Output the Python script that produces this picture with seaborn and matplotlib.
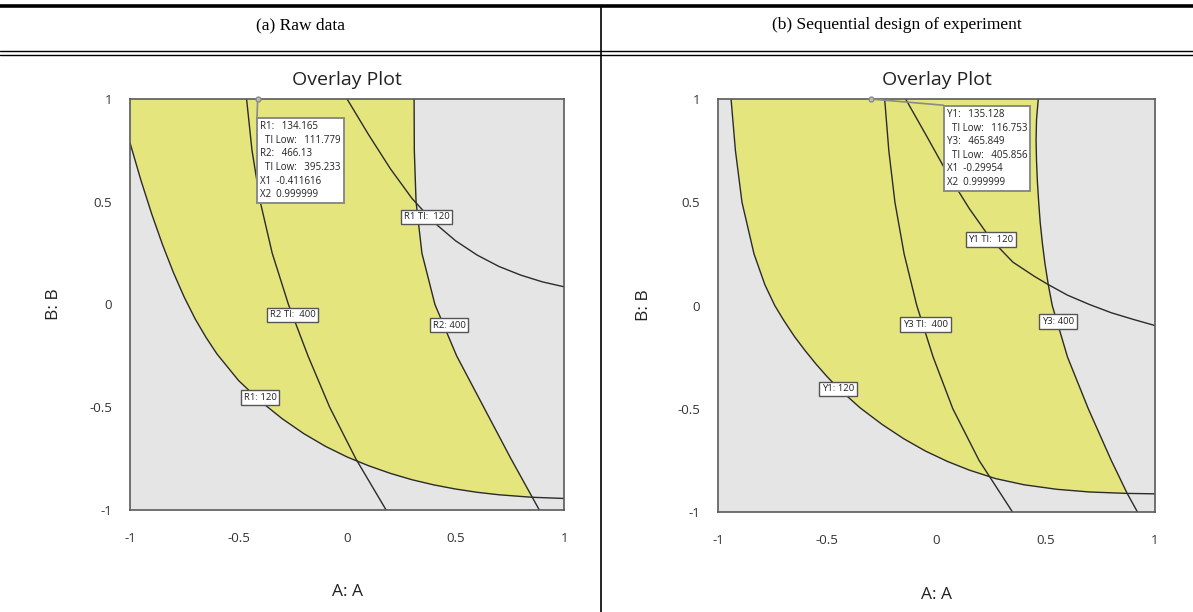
import numpy as np
import matplotlib.pyplot as plt
import seaborn as sns
from matplotlib.lines import Line2D

sns.set_style("white")
plt.rcParams["font.family"] = ["Open Sans", "DejaVu Sans"]

# ---- data (coded factors A, B in [-1, 1]) ----
headers = ["(a) Raw data", "(b) Sequential design of experiment"]
tick_vals = [-1, -0.5, 0, 0.5, 1]
tick_text = ["-1", "-0.5", "0", "0.5", "1"]

# (a) raw data
a_r1_120_x = [-1.0, -0.95, -0.90, -0.85, -0.80, -0.75, -0.70, -0.65, -0.60, -0.50, -0.40,
              -0.30, -0.20, -0.10, 0.0, 0.1, 0.2, 0.3, 0.4, 0.5, 0.6, 0.7, 0.85, 1.0]
a_r1_120_y = [0.786, 0.605, 0.44, 0.29, 0.155, 0.035, -0.07, -0.16, -0.24, -0.37, -0.47,
              -0.555, -0.628, -0.69, -0.742, -0.785, -0.822, -0.853, -0.878, -0.898,
              -0.914, -0.926, -0.938, -0.944]
a_r2_ti_x = [-0.463, -0.438, -0.40, -0.345, -0.27, -0.18, -0.08, 0.04, 0.18]
a_r2_ti_y = [1.0, 0.75, 0.5, 0.25, 0.0, -0.25, -0.5, -0.75, -1.0]
a_r1_ti_x = [0.0, 0.1, 0.2, 0.3, 0.4, 0.5, 0.6, 0.7, 0.8, 0.9, 1.0]
a_r1_ti_y = [1.0, 0.825, 0.66, 0.515, 0.40, 0.31, 0.24, 0.185, 0.143, 0.11, 0.086]
a_r2_400_x = [0.309, 0.31, 0.318, 0.345, 0.405, 0.505, 0.63, 0.755, 0.886]
a_r2_400_y = [1.0, 0.75, 0.5, 0.25, 0.0, -0.25, -0.5, -0.75, -1.0]
a_labels = ["R1 TI:  120", "R2 TI:  400", "R2: 400", "R1: 120"]
a_flag = ["R1:   134.165", "  TI Low:   111.779", "R2:   466.13",
          "  TI Low:   395.233", "X1  -0.411616", "X2  0.999999"]
a_point = (-0.411616, 0.999999)

# (b) sequential design of experiment
b_y1_120_x = [-0.94, -0.92, -0.89, -0.835, -0.785, -0.74, -0.70, -0.65, -0.60, -0.55,
              -0.50, -0.45, -0.35, -0.25, -0.15, -0.05, 0.05, 0.15, 0.27, 0.40, 0.55,
              0.70, 0.873, 1.0]
b_y1_120_y = [1.0, 0.75, 0.5, 0.25, 0.1, 0.0, -0.07, -0.15, -0.22, -0.285,
              -0.345, -0.40, -0.495, -0.575, -0.645, -0.705, -0.755, -0.797, -0.838,
              -0.868, -0.89, -0.903, -0.91, -0.912]
b_y3_ti_x = [-0.237, -0.218, -0.19, -0.148, -0.09, -0.015, 0.075, 0.195, 0.348]
b_y3_ti_y = [1.0, 0.75, 0.5, 0.25, 0.0, -0.25, -0.5, -0.75, -1.0]
b_y1_ti_x = [-0.141, -0.05, 0.05, 0.15, 0.25, 0.35, 0.45, 0.514, 0.6, 0.7, 0.8, 0.9, 1.0]
b_y1_ti_y = [1.0, 0.83, 0.64, 0.47, 0.32, 0.21, 0.14, 0.10, 0.05, 0.005, -0.035, -0.067, -0.097]
b_y3_400_x = [0.466, 0.458, 0.456, 0.458, 0.462, 0.468, 0.475, 0.485, 0.497, 0.512,
              0.53, 0.60, 0.695, 0.80, 0.873, 0.92]
b_y3_400_y = [1.0, 0.9, 0.8, 0.7, 0.6, 0.5, 0.4, 0.3, 0.2, 0.1,
              0.0, -0.25, -0.5, -0.75, -0.91, -1.0]
b_labels = ["Y1 TI:  120", "Y3 TI:  400", "Y3: 400", "Y1: 120"]
b_flag = ["Y1:   135.128", "  TI Low:   116.753", "Y3:   465.849",
          "  TI Low:   405.856", "X1  -0.29954", "X2  0.999999"]
b_point = (-0.29954, 0.999999)

YELLOW = "#e5e57e"
GREY_BG = "#e5e5e5"
LINE = "#2b2b2b"
FRAME = "#5a5a5a"


def draw_panel(ax, lower, ti_mid, ti_upper, upper, labels, label_pos, flag, point, flag_xy,
               ylab_x):
    ax.set_facecolor(GREY_BG)
    # feasible (yellow) window: right of lower limit curve, left of upper limit curve
    yy = np.linspace(-1, 1, 1500)
    lx, ly = np.array(lower[0]), np.array(lower[1])
    ux, uy = np.array(upper[0]), np.array(upper[1])
    x_left = np.interp(yy, ly[::-1], lx[::-1])
    x_right = np.interp(yy, uy[::-1], ux[::-1])
    x_left[yy > ly[0]] = -1.0
    ax.fill_betweenx(yy, x_left, x_right, where=x_left <= x_right,
                     color=YELLOW, lw=0, interpolate=True, zorder=1)

    for xs, ys in [lower, ti_mid, ti_upper, upper]:
        sns.lineplot(x=xs, y=ys, sort=False, estimator=None, color=LINE,
                     linewidth=1.0, ax=ax, zorder=3)

    for txt, (lx_, ly_) in zip(labels, label_pos):
        ax.text(lx_, ly_, txt, fontsize=6.8, ha="center", va="center", color="#222222",
                zorder=6, bbox=dict(boxstyle="square,pad=0.28", fc="white",
                                    ec="#555555", lw=1.0))

    # flag / tooltip at the selected point
    fx, fy = flag_xy
    ax.plot([point[0], fx], [point[1], fy], color="#8a8a8a", lw=1.2, zorder=5,
            clip_on=False)
    ax.plot([point[0]], [point[1]], marker="o", ms=3.5, mfc="#bdbdbd", mec="#8a8a8a",
            zorder=7, clip_on=False)
    ax.text(fx + 0.015, fy - 0.018, "\n".join(flag), fontsize=7.0, ha="left", va="top",
            linespacing=1.33, color="#222222", zorder=8,
            bbox=dict(boxstyle="square,pad=0.32", fc="white", ec="#8a8a8a", lw=1.4))

    ax.set_xlim(-1, 1)
    ax.set_ylim(-1, 1)
    ax.set_xticks(tick_vals)
    ax.set_xticklabels(tick_text)
    ax.set_yticks(tick_vals)
    ax.set_yticklabels(tick_text)
    ax.tick_params(direction="out", length=9, width=1.0, color=FRAME,
                   labelsize=9.5, labelcolor="#333333")
    ax.tick_params(axis="x", pad=7)
    ax.tick_params(axis="y", pad=4)
    for sp in ax.spines.values():
        sp.set_color(FRAME)
        sp.set_linewidth(1.2)
        sp.set_zorder(4)
    ax.set_xlabel("A: A", fontsize=12.5, color="#222222")
    ax.set_ylabel("B: B", fontsize=12.5, color="#222222")
    ax.xaxis.set_label_coords(0.5, -0.181)
    ax.yaxis.set_label_coords(ylab_x, 0.5)
    ax.text(0.5, 1.045, "Overlay Plot", transform=ax.transAxes, ha="center",
            va="center", fontsize=14, color="#222222")


fig = plt.figure(figsize=(11.93, 6.12), dpi=100)
ax_a = fig.add_axes([0.1090, 0.1667, 0.3638, 0.6716])
ax_b = fig.add_axes([0.6018, 0.1634, 0.3663, 0.6748])

draw_panel(ax_a, (a_r1_120_x, a_r1_120_y), (a_r2_ti_x, a_r2_ti_y),
           (a_r1_ti_x, a_r1_ti_y), (a_r2_400_x, a_r2_400_y),
           a_labels, [(0.366, 0.426), (-0.25, -0.05), (0.47, -0.10), (-0.40, -0.453)],
           a_flag, a_point, (-0.415, 0.911), -0.157)
draw_panel(ax_b, (b_y1_120_x, b_y1_120_y), (b_y3_ti_x, b_y3_ti_y),
           (b_y1_ti_x, b_y1_ti_y), (b_y3_400_x, b_y3_400_y),
           b_labels, [(0.249, 0.32), (-0.05, -0.092), (0.557, -0.078), (-0.45, -0.403)],
           b_flag, b_point, (0.032, 0.97), -0.151)

# ---- table frame around the two panels ----
H = 612.0
fig.add_artist(Line2D([0, 1], [1 - 6 / H] * 2, color="black", lw=2.6, transform=fig.transFigure))
fig.add_artist(Line2D([0, 1], [1 - 51 / H] * 2, color="black", lw=1.0, transform=fig.transFigure))
fig.add_artist(Line2D([0, 1], [1 - 55 / H] * 2, color="black", lw=1.0, transform=fig.transFigure))
fig.add_artist(Line2D([601 / 1193.0] * 2, [0, 1 - 6 / H], color="black", lw=1.2,
                      transform=fig.transFigure))
for xc, txt in zip([300.5 / 1193.0, 897 / 1193.0], headers):
    fig.text(xc, 1 - 25 / H, txt, ha="center", va="center", fontsize=12.5,
             family=["Liberation Serif", "DejaVu Serif"], color="black")

fig.savefig("out.png", dpi=100)
plt.close(fig)
